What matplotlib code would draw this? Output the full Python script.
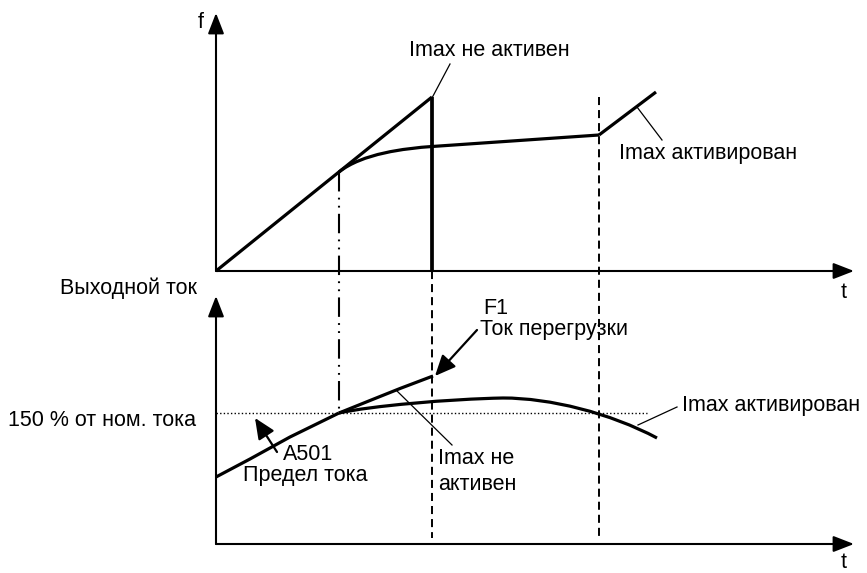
import matplotlib
matplotlib.use("Agg")
import matplotlib.pyplot as plt
from matplotlib.path import Path
from matplotlib.patches import PathPatch

plt.rcParams['font.family'] = ['Liberation Sans', 'DejaVu Sans']
plt.rcParams['lines.scale_dashes'] = False

# ---- data (diagram units, y grows downward) ----
# top panel: frequency
f_ramp_t = [216, 432]
f_ramp_f = [271, 97]
f_drop_t = [432, 432]
f_drop_f = [97, 271]
# limited frequency: bezier control points knee -> trip, then straight to activation
f_lim_t = [339, 362, 405, 432, 599]
f_lim_f = [172, 153.5, 148.4, 146.5, 135]
f_act_t = [599, 656]
f_act_f = [135, 92]

# bottom panel: output current
i_rise_t = [216, 250, 290, 339]
i_rise_i = [477, 459, 437, 413]
i_over_t = [339, 370, 400, 433]
i_over_i = [413, 400.5, 388.5, 376]
# limited current: two cubic bezier segments (control points)
i_lim_t = [339, 370, 450, 503, 550, 610, 657]
i_lim_i = [413, 406, 399, 398, 398, 413, 438]
i_nom_level = 413

# event times
t_knee = 339
t_trip = 432
t_act = 599

W, H = 867, 573
fig = plt.figure(figsize=(W / 100, H / 100), dpi=100)
ax = fig.add_axes([0, 0, 1, 1])
ax.set_xlim(0, W)
ax.set_ylim(H, 0)
ax.axis('off')

K = 'black'
thick = 2.3
axlw = 1.5
fs = 15.5

def arrow_axis(x0, y0, x1, y1):
    ax.annotate('', xy=(x1, y1), xytext=(x0, y0),
                arrowprops=dict(arrowstyle='-|>,head_length=0.9,head_width=0.35',
                                lw=axlw, color=K, shrinkA=0, shrinkB=0,
                                mutation_scale=14))

def bezier(xs, ys, lw):
    verts = list(zip(xs, ys))
    codes = [Path.MOVETO] + [Path.CURVE4] * (len(verts) - 1)
    ax.add_patch(PathPatch(Path(verts, codes), fill=False, lw=lw, ec=K,
                           capstyle='butt', joinstyle='round'))

# axes
ax0_x, top_y0, bot_y0 = 216, 271, 544
arrow_axis(ax0_x, top_y0, ax0_x, 13)
arrow_axis(ax0_x, top_y0, 854, top_y0)
arrow_axis(ax0_x, bot_y0, ax0_x, 296)
arrow_axis(ax0_x, bot_y0, 854, bot_y0)

# verticals
ax.plot([t_knee, t_knee], [172, 413], color=K, lw=1.5,
        dashes=(14, 4.5, 1.3, 4.5, 1.3, 4.5))
ax.plot([t_trip, t_trip], [271, 538], color=K, lw=1.4, dashes=(5.8, 3.6))
ax.plot([t_act, t_act], [97, 538], color=K, lw=1.4, dashes=(5.8, 3.6))

# dotted 150% line
ax.plot([216, 647], [i_nom_level, i_nom_level], color=K, lw=1.0, dashes=(1, 1.6))

# top curves
ax.plot(f_ramp_t, f_ramp_f, color=K, lw=thick, solid_capstyle='butt')
ax.plot(f_drop_t, f_drop_f, color=K, lw=thick + 0.4, solid_capstyle='butt')
bezier(f_lim_t[:4], f_lim_f[:4], thick)
ax.plot(f_lim_t[3:], f_lim_f[3:], color=K, lw=thick, solid_capstyle='butt')
ax.plot(f_act_t, f_act_f, color=K, lw=thick, solid_capstyle='butt')

# bottom curves
ax.plot(i_rise_t, i_rise_i, color=K, lw=thick, solid_capstyle='butt',
        solid_joinstyle='round')
ax.plot(i_over_t, i_over_i, color=K, lw=thick, solid_capstyle='butt',
        solid_joinstyle='round')
bezier(i_lim_t, i_lim_i, thick)

# leader lines
ax.plot([450, 432.5], [64, 97], color=K, lw=0.9)
ax.plot([637, 662], [107, 140], color=K, lw=0.9)
ax.plot([397, 452], [391, 445], color=K, lw=0.9)
ax.plot([677, 638], [407, 425], color=K, lw=0.9)

# arrows with heads
ax.annotate('', xy=(255, 418), xytext=(277, 452),
            arrowprops=dict(arrowstyle='-|>,head_length=0.9,head_width=0.4',
                            lw=1.6, color=K, shrinkA=0, shrinkB=0,
                            mutation_scale=14))
ax.annotate('', xy=(435, 376), xytext=(477, 330),
            arrowprops=dict(arrowstyle='-|>,head_length=0.9,head_width=0.4',
                            lw=1.6, color=K, shrinkA=0, shrinkB=0,
                            mutation_scale=14))

# texts
ax.text(201, 22, 'f', fontsize=fs, ha='center', va='center')
ax.text(844, 293, 't', fontsize=fs, ha='center', va='center')
ax.text(844, 562, 't', fontsize=fs, ha='center', va='center')
ax.text(409, 50, 'Imax не активен', fontsize=fs, ha='left', va='center')
ax.text(619, 153, 'Imax активирован', fontsize=fs, ha='left', va='center')
ax.text(197, 288, 'Выходной ток', fontsize=fs, ha='right', va='center')
ax.text(196, 420, '150 % от ном. тока', fontsize=fs, ha='right', va='center')
ax.text(283, 455, 'A501', fontsize=fs, ha='left', va='center')
ax.text(243, 475, 'Предел тока', fontsize=fs, ha='left', va='center')
ax.text(483, 308, 'F1', fontsize=fs, ha='left', va='center')
ax.text(480, 329, 'Ток перегрузки', fontsize=fs, ha='left', va='center')
ax.text(438, 458, 'Imax не', fontsize=fs, ha='left', va='center')
ax.text(438, 485, 'активен', fontsize=fs, ha='left', va='center')
ax.text(682, 405, 'Imax активирован', fontsize=fs, ha='left', va='center')

fig.savefig('out.png', dpi=100, facecolor='white')
